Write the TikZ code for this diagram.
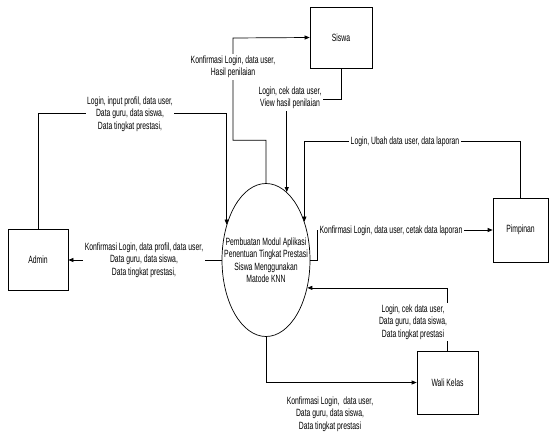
\documentclass[tikz,border=0pt]{standalone}
\usepackage{fontspec}
\setmainfont{Liberation Sans}[FakeStretch=0.65]
\usetikzlibrary{arrows.meta,positioning,calc,shapes.geometric}

\begin{document}
\begin{tikzpicture}[x=1pt,y=-1pt,font=\fontsize{10.5}{12.5}\selectfont,
  ent/.style={draw,line width=0.7pt,inner sep=0pt},
  flow/.style={line width=0.7pt,-{Triangle[length=5pt,width=4pt]}},
  lbl/.style={fill=white,align=center,inner sep=1.5pt}]
\useasboundingbox[fill=white] (0,0) rectangle (549,436);
\node[ent,minimum width=62pt,minimum height=61pt] (siswa) at (341,37.5) {Siswa};
\node[ent,minimum width=60pt,minimum height=61pt] (admin) at (38,260) {Admin};
\node[ent,minimum width=55pt,minimum height=64pt] (pimpinan) at (520.5,230) {Pimpinan};
\node[ent,minimum width=61pt,minimum height=63pt] (wali) at (447.5,382.5) {Wali Kelas};
\node[ent,ellipse,minimum width=88pt,minimum height=153pt] (proses) at (266,260) {};
\node[align=center] (prosesteks) at (proses.center) {Pembuatan Modul Aplikasi\\Penentuan Tingkat Prestasi\\Siswa Menggunakan\\Matode KNN};
% alur data
\draw[flow] (proses.north) -- ++(0,-43) -| (233,38) -- (siswa.west);
\draw[flow] (siswa.south) -- ++(0,31) -| (proses.73);
\draw[flow] (admin.north) -- ++(0,-116) -| (proses.138);
\draw[flow] (proses.west) -- (admin.east);
\draw[flow] (proses.east) -- ++(7,0) |- (pimpinan.west);
\draw[flow] (pimpinan.north) -- ++(0,-56) -| (proses.45);
\draw[flow] (wali.north) |- (proses.-34);
\draw[flow] (proses.south) |- (wali.west);
% label alur
\node[lbl] (kfsiswa) at (233,67) {Konfirmasi Login, data user,\\Hasil penilaian};
\node[lbl] (lgsiswa) at (290,98) {Login, cek data user,\\View hasil penilaian};
\node[lbl] (lgadmin) at (130,114) {Login, input profil, data user,\\Data guru, data siswa,\\Data tingkat prestasi,};
\node[lbl] (kfadmin) at (144,260) {Konfirmasi Login, data profil, data user,\\Data guru, data siswa,\\Data tingkat prestasi,};
\node[lbl] (lgpimpinan) at (405,142) {Login, Ubah data user, data laporan};
\node[lbl] (kfpimpinan) at (391,231) {Konfirmasi Login, data user, cetak data laporan};
\node[lbl] (lgwali) at (413,322) {Login, cek data user,\\Data guru, data siswa,\\Data tingkat prestasi};
\node[lbl] (kfwali) at (330,414) {Konfirmasi Login,\ \ data user,\\Data guru, data siswa,\\Data tingkat prestasi};
\end{tikzpicture}
\end{document}
